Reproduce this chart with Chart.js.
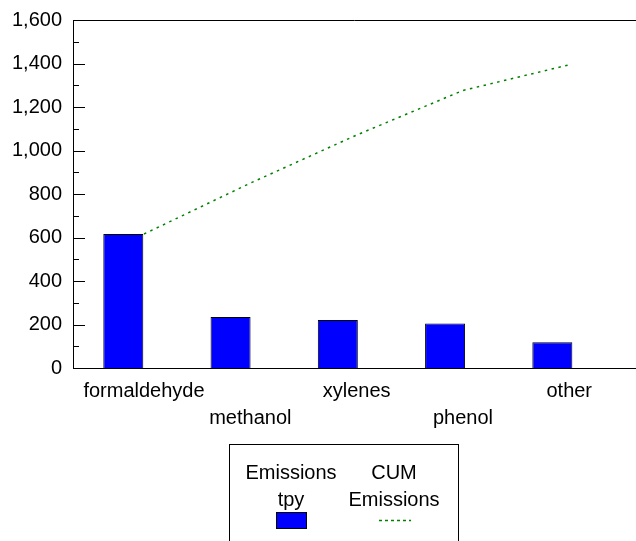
<!DOCTYPE html>
<html>
<head>
<meta charset="utf-8">
<title>Emissions tpy</title>
<script src="https://cdn.jsdelivr.net/npm/chart.js@4.4.1/dist/chart.umd.min.js"></script>
<style>
  html, body { margin: 0; padding: 0; background: #fff; }
  #wrap { width: 636px; height: 541px; position: relative; }
</style>
</head>
<body>
<div id="wrap"><canvas id="chart" width="636" height="541"></canvas></div>
<script>
// Pollutant categories, in order of emissions
const categories = ['formaldehyde', 'methanol', 'xylenes', 'phenol', 'other'];
// Emissions per pollutant, tons per year
const emissionsTpy = [616, 234, 221, 205, 118];
// Running total of emissions
const cumEmissions = [616, 850, 1071, 1276, 1394];
// Value axis tick labels
const yTickValues = [0, 200, 400, 600, 800, 1000, 1200, 1400, 1600];
// Legend text, one array of lines per series
const seriesNames = [['Emissions', 'tpy'], ['CUM', 'Emissions']];

const FONT = '"Liberation Sans", Arial, Helvetica, sans-serif';
Chart.defaults.font.family = FONT;
Chart.defaults.font.size = 20;
Chart.defaults.color = '#000';

const indexTicks = (axis) => { axis.ticks = categories.map((_, i) => ({ value: i })); };

// Inward tick marks on the value axis plus the top frame line
const frame = {
  id: 'frame',
  afterDraw(chart) {
    const { ctx, chartArea: a, scales } = chart;
    const y = scales.y;
    ctx.save();
    ctx.strokeStyle = '#000';
    ctx.lineWidth = 1;
    ctx.beginPath();
    ctx.moveTo(a.left, Math.round(a.top) + 0.5);
    ctx.lineTo(a.right, Math.round(a.top) + 0.5);
    const step = 100;
    for (let v = y.min; v <= y.max; v += step) {
      const py = Math.round(y.getPixelForValue(v)) + 0.5;
      const len = v % 200 ? 6 : 12;
      ctx.moveTo(a.left, py);
      ctx.lineTo(a.left + len, py);
    }
    ctx.stroke();
    ctx.restore();
  }
};

// Boxed legend below the axis, two columns with stacked text
const boxLegend = {
  id: 'boxLegend',
  afterDraw(chart) {
    const { ctx } = chart;
    const ds = chart.data.datasets;
    ctx.save();
    ctx.strokeStyle = '#000';
    ctx.lineWidth = 1;
    ctx.strokeRect(229.5, 444.5, 229, 120);

    ctx.font = '20px ' + FONT;
    ctx.fillStyle = '#000';
    ctx.textAlign = 'center';
    ctx.textBaseline = 'alphabetic';
    const cols = [291, 394];
    seriesNames.forEach((lines, i) => {
      lines.forEach((t, j) => ctx.fillText(t, cols[i], 479 + j * 27));
    });

    // bar swatch
    ctx.fillStyle = ds[0].backgroundColor;
    ctx.fillRect(276, 512, 31, 17);
    ctx.strokeStyle = ds[0].borderColor;
    ctx.strokeRect(276.5, 512.5, 30, 16);

    // line swatch
    ctx.strokeStyle = ds[1].borderColor;
    ctx.lineWidth = 1.5;
    ctx.setLineDash([3, 3]);
    ctx.beginPath();
    ctx.moveTo(379, 520.5);
    ctx.lineTo(411, 520.5);
    ctx.stroke();
    ctx.restore();
  }
};

new Chart(document.getElementById('chart'), {
  type: 'bar',
  data: {
    datasets: [
      {
        type: 'bar',
        label: seriesNames[0].join(' '),
        data: emissionsTpy.map((v, i) => ({ x: i, y: v })),
        xAxisID: 'xBar',
        yAxisID: 'y',
        backgroundColor: '#0000ff',
        borderColor: '#000',
        borderWidth: 1,
        barPercentage: 0.373,
        categoryPercentage: 1,
        grouped: false,
        order: 2
      },
      {
        type: 'line',
        label: seriesNames[1].join(' '),
        data: cumEmissions.map((v, i) => ({ x: i, y: v })),
        xAxisID: 'x',
        yAxisID: 'y',
        borderColor: '#008000',
        borderWidth: 1.5,
        borderDash: [2.5, 4.5],
        pointRadius: 0,
        tension: 0,
        fill: false,
        order: 1
      }
    ]
  },
  options: {
    responsive: false,
    animation: false,
    devicePixelRatio: 1,
    layout: { padding: { left: 0, right: 0, top: 20, bottom: 113 } },
    plugins: {
      legend: { display: false },
      tooltip: { enabled: false }
    },
    scales: {
      xBar: {
        type: 'linear',
        display: false,
        offset: false,
        grid: { offset: false },
        min: -0.469,
        max: 4.78,
        afterBuildTicks: indexTicks
      },
      x: {
        type: 'linear',
        position: 'bottom',
        offset: false,
        min: -0.668,
        max: 4.628,
        grid: { display: false, drawTicks: false, offset: false },
        border: { display: true, color: '#000', width: 1 },
        afterBuildTicks: indexTicks,
        afterFit: (axis) => { axis.height = 60; axis.paddingLeft = 0; axis.paddingRight = 0; },
        ticks: {
          autoSkip: false,
          maxRotation: 0,
          padding: 10,
          color: '#000',
          font: { size: 20, lineHeight: 1.35 },
          callback: (value, index) => index % 2 ? ['', categories[index]] : categories[index]
        }
      },
      y: {
        type: 'linear',
        min: yTickValues[0],
        max: yTickValues[yTickValues.length - 1],
        grid: { display: false, drawTicks: false },
        border: { display: true, color: '#000', width: 1 },
        afterBuildTicks: (axis) => { axis.ticks = yTickValues.map(v => ({ value: v })); },
        afterFit: (axis) => { axis.width = 73; axis.paddingTop = 0; axis.paddingBottom = 0; },
        ticks: {
          padding: 11,
          color: '#000',
          font: { size: 20 },
          callback: (v) => v.toLocaleString('en-US')
        }
      }
    }
  },
  plugins: [frame, boxLegend]
});
</script>
</body>
</html>
